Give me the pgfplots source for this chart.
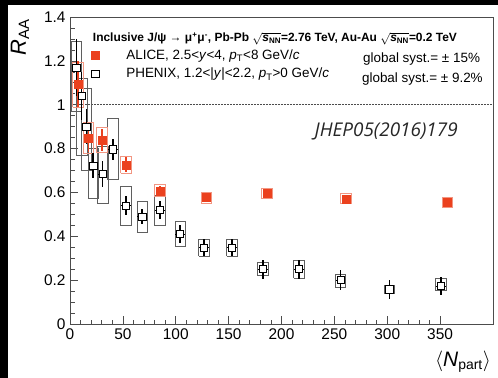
\documentclass[border=0pt]{standalone}
\usepackage{fontspec}
\setmainfont{Liberation Sans}
\newfontfamily\refsfont{Open Sans}
\usepackage{pgfplots}
\pgfplotsset{compat=1.18}
\usepackage{pgfplotstable}
\usetikzlibrary{calc}

\definecolor{alicered}{RGB}{235,65,30}
\definecolor{alicesys}{RGB}{242,150,130}
\definecolor{phenixsys}{RGB}{95,95,95}

% ALICE Pb-Pb 2.76 TeV, 2.5<y<4
\pgfplotstableread{
x     y      ey
7.5   1.093  0.105
17.5  0.848  0.065
30    0.840  0.050
53    0.726  0.035
85    0.607  0.022
129   0.577  0.018
186   0.597  0.012
261   0.571  0.012
357   0.556  0.012
}\alicedata

% PHENIX Au-Au 0.2 TeV, 1.2<|y|<2.2
\pgfplotstableread{
x      y      ey     ex
6      1.170  0.130  4.5
11     1.040  0.110  4.5
15.5   0.900  0.080  4.5
22     0.723  0.055  4.5
30.8   0.685  0.060  4.5
40.6   0.797  0.048  4.5
53     0.540  0.042  4.5
68.3   0.490  0.036  4.5
85     0.521  0.042  4.5
104.2  0.410  0.040  4.5
126.8  0.348  0.039  4.5
153.2  0.348  0.039  4.5
182.5  0.250  0.043  4.5
216.5  0.250  0.043  4.5
255.8  0.201  0.044  4.5
302    0.158  0.042  4.5
350.9  0.174  0.040  4.5
}\phenixdata

\begin{document}
\begin{tikzpicture}
\begin{axis}[
  at={(0,0)}, anchor=south west,
  scale only axis,
  width=423bp, height=307bp,
  xmin=0, xmax=400, ymin=0, ymax=1.4,
  axis line style={black!70, line width=0.6pt},
  xtick={0,50,...,350},
  ytick={0,0.2,...,1.4},
  minor x tick num=4,
  minor y tick num=3,
  tick align=inside,
  xtick pos=bottom, ytick pos=left,
  major tick length=8bp, minor tick length=4.5bp,
  tick style={black!70, line width=0.6pt},
  /pgf/number format/assume math mode=true,
  tick label style={font=\fontsize{15.5}{18}\selectfont},
  yticklabel style={xshift=-1bp},
  xticklabel style={yshift=-1bp},
  unbounded coords=jump,
  clip=false,
  legend cell align=left,
  legend style={at={(axis cs:20,1.262)}, anchor=north west, draw=none, fill=none,
    font=\fontsize{13.5}{15}\selectfont, row sep=3.5bp, inner sep=0pt,
    nodes={inner sep=2pt},
    /tikz/every odd column/.append style={column sep=25bp}},
]

% unity reference line
\addplot[forget plot, black!70, densely dotted, line width=0.5pt] coordinates {(0,1) (400,1)};

% PHENIX systematic boxes
\addplot[forget plot, phenixsys, line width=0.7pt] coordinates {
(1,0.97) (11,0.97) (11,1.29) (1,1.29) (1,0.97) (nan,nan)
(6,0.77) (16,0.77) (16,1.12) (6,1.12) (6,0.77) (nan,nan)
(10.5,0.70) (20.5,0.70) (20.5,1.075) (10.5,1.075) (10.5,0.70) (nan,nan)
(17,0.571) (27,0.571) (27,0.80) (17,0.80) (17,0.571) (nan,nan)
(25.8,0.548) (35.8,0.548) (35.8,0.81) (25.8,0.81) (25.8,0.548) (nan,nan)
(35.6,0.658) (45.6,0.658) (45.6,0.939) (35.6,0.939) (35.6,0.658) (nan,nan)
(48,0.449) (58,0.449) (58,0.627) (48,0.627) (48,0.449) (nan,nan)
(63.3,0.419) (73.3,0.419) (73.3,0.558) (63.3,0.558) (63.3,0.419) (nan,nan)
(80,0.449) (90,0.449) (90,0.586) (80,0.586) (80,0.449) (nan,nan)
(99.2,0.353) (109.2,0.353) (109.2,0.467) (99.2,0.467) (99.2,0.353) (nan,nan)
(121.8,0.31) (131.8,0.31) (131.8,0.388) (121.8,0.388) (121.8,0.31) (nan,nan)
(148.2,0.31) (158.2,0.31) (158.2,0.388) (148.2,0.388) (148.2,0.31) (nan,nan)
(177.5,0.22) (187.5,0.22) (187.5,0.28) (177.5,0.28) (177.5,0.22) (nan,nan)
(211.5,0.209) (221.5,0.209) (221.5,0.292) (211.5,0.292) (211.5,0.209) (nan,nan)
(250.8,0.168) (260.8,0.168) (260.8,0.228) (250.8,0.228) (250.8,0.168) (nan,nan)
(297,0.14) (307,0.14) (307,0.178) (297,0.178) (297,0.14) (nan,nan)
(345.9,0.152) (355.9,0.152) (355.9,0.207) (345.9,0.207) (345.9,0.152)
};

% ALICE systematic boxes
\addplot[forget plot, alicesys, line width=0.8pt] coordinates {
(2.5,0.99) (12.5,0.99) (12.5,1.195) (2.5,1.195) (2.5,0.99) (nan,nan)
(12.5,0.78) (22.5,0.78) (22.5,0.918) (12.5,0.918) (12.5,0.78) (nan,nan)
(25,0.782) (35,0.782) (35,0.895) (25,0.895) (25,0.782) (nan,nan)
(48,0.688) (58,0.688) (58,0.764) (48,0.764) (48,0.688) (nan,nan)
(80,0.580) (90,0.580) (90,0.635) (80,0.635) (80,0.580) (nan,nan)
(124,0.552) (134,0.552) (134,0.602) (124,0.602) (124,0.552) (nan,nan)
(181,0.575) (191,0.575) (191,0.620) (181,0.620) (181,0.575) (nan,nan)
(256,0.549) (266,0.549) (266,0.594) (256,0.594) (256,0.549) (nan,nan)
(352,0.533) (362,0.533) (362,0.579) (352,0.579) (352,0.533)
};

% PHENIX horizontal bin ticks
\addplot[forget plot, only marks, mark=none,
  error bars/.cd, x dir=both, x explicit,
  error mark=none, error bar style={black, line width=0.5pt}]
  table[x=x, y=y, x error=ex] {\phenixdata};
% PHENIX points with statistical errors
\addplot[forget plot, only marks, mark=square*, mark size=3.6bp,
  mark options={fill=white, draw=black, line width=0.6pt},
  error bars/.cd, y dir=both, y explicit,
  error mark=none, error bar style={black, line width=1.6pt}]
  table[x=x, y=y, y error=ey] {\phenixdata};

% ALICE points with statistical errors
\addplot[forget plot, only marks, mark=square*, mark size=4bp,
  mark options={fill=alicered, draw=alicered, line width=0.3pt},
  error bars/.cd, y dir=both, y explicit,
  error mark=none, error bar style={alicered, line width=1.6pt}]
  table[x=x, y=y, y error=ey] {\alicedata};

\addlegendimage{only marks, mark=square*, mark size=4bp, mark options={fill=alicered, draw=alicered}}
\addlegendentry{ALICE, 2.5<\textit{y}<4, \textit{p}\textsubscript{T}<8 GeV/\textit{c}}
\addlegendimage{only marks, mark=square*, mark size=3.6bp, mark options={fill=white, draw=black, line width=0.6pt}}
\addlegendentry{PHENIX, 1.2<|\textit{y}|<2.2, \textit{p}\textsubscript{T}>0 GeV/\textit{c}}

\node[anchor=west, font=\fontsize{12}{14}\selectfont\bfseries, inner sep=0pt]
  at (axis cs:21.5,1.302)
  {Inclusive J/ψ → μ\textsuperscript{+}μ\textsuperscript{-}, Pb-Pb $\sqrt{\mbox{\textit{s}\textsubscript{NN}}}$=2.76 TeV, Au-Au $\sqrt{\mbox{\textit{s}\textsubscript{NN}}}$=0.2 TeV};
\node[anchor=west, font=\fontsize{13.5}{15}\selectfont, inner sep=0pt]
  at (axis cs:277,1.209) {global syst.= ± 15\%};
\node[anchor=west, font=\fontsize{13.5}{15}\selectfont, inner sep=0pt]
  at (axis cs:276,1.118) {global syst.= ± 9.2\%};

\node[font=\refsfont\itshape\fontsize{19}{22}\selectfont, text=black!85]
  at (axis cs:299,0.880) {JHEP05(2016)179};
\end{axis}

% axis titles
\node[rotate=90, anchor=center, font=\fontsize{22}{24}\selectfont]
  at ($(current axis.south west)+(-50bp,287bp)$) {\textit{R}\textsubscript{\fontsize{15}{16}\selectfont AA}};
\node[anchor=center, font=\fontsize{21}{24}\selectfont]
  at ($(current axis.south west)+(393bp,-38bp)$) {$\langle$\textit{N}\textsubscript{\fontsize{14}{15}\selectfont part}$\rangle$};

% frame of the page
\fill[black] ($(current axis.south west)+(-70bp,-54bp)$) rectangle ($(current axis.south west)+(-62bp,324bp)$);
\fill[black] ($(current axis.south west)+(-70bp,319bp)$) rectangle ($(current axis.south west)+(428bp,324bp)$);

\pgfresetboundingbox
\path[use as bounding box] ($(current axis.south west)+(-70bp,-54bp)$) rectangle ($(current axis.south west)+(428bp,324bp)$);
\end{tikzpicture}
\end{document}
